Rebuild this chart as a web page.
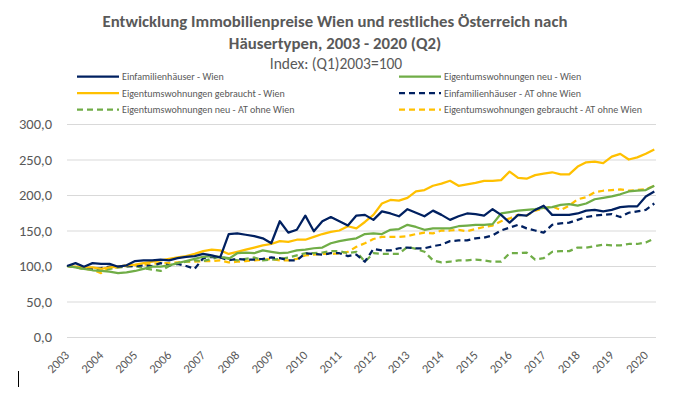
<!DOCTYPE html>
<html lang="de">
  <head>
    <meta charset="UTF-8" />
    <title>Immobilienpreise Wien</title>
    <style>
      body {
        margin: 0;
        background: #fff;
      }
      svg {
        font-family: Carlito, Calibri, Lato, sans-serif;
      }
      .grid line {
        stroke: #d9d9d9;
        stroke-width: 1px;
      }
      .series {
        fill: none;
        stroke-width: 2.25px;
        stroke-linejoin: round;
      }
    </style>
  </head>
  <body>
    <div id="chart"></div>
    <script src="https://cdn.jsdelivr.net/npm/d3@7"></script>
    <script>
      // Index (Q1)2003 = 100, quartalsweise 2003 Q1 bis 2020 Q2
      const years = d3.range(2003, 2021);
      const yTicks = [0, 50, 100, 150, 200, 250, 300];

      const efhWien = [
        100, 104, 99, 104, 103, 103, 99, 101, 107, 108,
        108, 109, 108, 111, 113, 114, 117, 115, 112, 145,
        146, 144, 142, 139, 132, 163, 147, 151, 171, 149,
        163, 169, 163, 157, 171, 172, 165, 177, 174, 170,
        180, 175, 170, 178, 172, 165, 170, 174, 173, 171,
        180, 172, 161, 172, 171, 179, 185, 172, 172, 172,
        174, 178, 179, 177, 179, 183, 184, 184, 198, 205
      ];
      const ewNeuWien = [
        100, 98, 96, 94, 93, 92, 90, 91, 93, 96,
        99, 99, 101, 104, 107, 110, 113, 114, 113, 110,
        118, 119, 118, 122, 120, 118, 119, 122, 123, 125,
        126, 132, 135, 137, 139, 145, 146, 145, 151, 152,
        158, 155, 151, 153, 153, 153, 156, 157, 158, 158,
        159, 174, 176, 178, 179, 180, 182, 183, 186, 187,
        185, 188, 194, 196, 198, 201, 205, 206, 207, 213
      ];
      const ewGebrWien = [
        100, 99, 98, 98, 96, 98, 99, 101, 102, 104,
        106, 108, 110, 112, 114, 117, 121, 123, 122, 117,
        120, 123, 126, 129, 131, 135, 134, 137, 137, 141,
        145, 148, 150, 156, 153, 162, 172, 188, 193, 192,
        196, 205, 207, 213, 216, 220, 213, 215, 217, 220,
        220, 221, 233, 224, 223, 228, 230, 232, 229, 229,
        240, 246, 247, 245, 254, 258, 250, 253, 258, 264
      ];
      const efhAT = [
        100, 99, 97, 96, 97, 99, 99, 100, 100, 101,
        100, 104, 101, 103, 100, 96, 111, 113, 112, 108,
        110, 109, 109, 110, 112, 111, 108, 108, 118, 117,
        116, 118, 118, 114, 116, 106, 124, 122, 122, 125,
        126, 125, 125, 128, 130, 135, 136, 136, 139, 140,
        143, 150, 154, 158, 153, 150, 147, 158, 160, 161,
        165, 169, 171, 172, 173, 169, 175, 177, 179, 188
      ];
      const ewNeuAT = [
        100, 98, 96, 96, 94, 96, 98, 99, 100, 97,
        95, 93, 100, 104, 106, 108, 107, 110, 113, 111,
        108, 110, 112, 108, 109, 110, 112, 115, 118, 118,
        119, 121, 121, 118, 120, 106, 118, 117, 117, 117,
        127, 124, 120, 108, 105, 106, 108, 108, 109, 108,
        106, 106, 118, 118, 119, 109, 111, 120, 121, 121,
        126, 126, 128, 130, 129, 129, 131, 131, 133, 139
      ];
      const ewGebrAT = [
        100, 98, 96, 95, 90, 97, 98, 100, 101, 102,
        103, 104, 104, 105, 106, 106, 107, 107, 108, 105,
        106, 107, 108, 109, 110, 108, 108, 110, 115, 116,
        117, 117, 118, 120, 127, 132, 138, 141, 141, 141,
        142, 145, 147, 146, 150, 150, 151, 149, 152, 155,
        157, 163, 167, 172, 171, 178, 181, 184, 179, 185,
        194, 197, 204, 206, 207, 208, 206, 207, 208, 213
      ];

      const navy = "#002060",
        gold = "#ffc000",
        green = "#70ad47",
        textGrey = "#595959";

      // Reihenfolge wie in der Legende (links/rechts, zeilenweise)
      const series = [
        { name: "Einfamilienhäuser - Wien", values: efhWien, color: navy, dash: null },
        { name: "Eigentumswohnungen neu - Wien", values: ewNeuWien, color: green, dash: null },
        { name: "Eigentumswohnungen gebraucht - Wien", values: ewGebrWien, color: gold, dash: null },
        { name: "Einfamilienhäuser - AT ohne Wien", values: efhAT, color: navy, dash: "6,4" },
        { name: "Eigentumswohnungen neu - AT ohne Wien", values: ewNeuAT, color: green, dash: "6,4" },
        { name: "Eigentumswohnungen gebraucht - AT ohne Wien", values: ewGebrAT, color: gold, dash: "6,4" }
      ];

      let width = 673,
        height = 399;
      let margin = { top: 124, right: 17, bottom: 62, left: 67 };
      let n = efhWien.length;

      let svg = d3
        .select("#chart")
        .append("svg")
        .attr("width", width)
        .attr("height", height);

      let x = d3
        .scaleLinear()
        .domain([0, n - 1])
        .range([margin.left, 654.3]);

      let y = d3
        .scaleLinear()
        .domain([0, 300])
        .range([height - margin.bottom, margin.top]);

      // Titel
      let title = svg
        .append("text")
        .attr("text-anchor", "middle")
        .attr("fill", textGrey)
        .attr("font-weight", "bold")
        .attr("font-size", 16.8);
      title.append("tspan").attr("x", 335).attr("y", 27)
        .text("Entwicklung Immobilienpreise Wien und restliches Österreich nach");
      title.append("tspan").attr("x", 335).attr("y", 49)
        .text("Häusertypen, 2003 - 2020 (Q2)");

      svg
        .append("text")
        .attr("x", 336)
        .attr("y", 69)
        .attr("text-anchor", "middle")
        .attr("fill", textGrey)
        .attr("font-size", 15.5)
        .text("Index: (Q1)2003=100");

      // Legende
      let legend = svg
        .selectAll(".legend")
        .data(series)
        .enter()
        .append("g")
        .attr("class", "legend")
        .attr("transform", function (d, i) {
          let col = i % 2,
            row = Math.floor(i / 2);
          return "translate(" + (col ? 399 : 77) + "," + (76.5 + row * 16.5) + ")";
        });

      legend
        .append("line")
        .attr("x1", 0)
        .attr("x2", 42)
        .attr("stroke", (d) => d.color)
        .attr("stroke-width", 2.25)
        .attr("stroke-dasharray", (d) => d.dash);

      legend
        .append("text")
        .attr("x", 45)
        .attr("dy", "0.35em")
        .attr("fill", textGrey)
        .attr("font-size", 10)
        .text((d) => d.name);

      // Gitternetz + y-Achse
      let yAxis = svg
        .append("g")
        .attr("class", "grid")
        .attr("transform", "translate(" + margin.left + ",0)")
        .call(
          d3
            .axisLeft(y)
            .tickValues(yTicks)
            .tickSize(-(656 - margin.left))
            .tickPadding(15)
            .tickFormat((d) => d.toFixed(1).replace(".", ","))
        );
      yAxis.select(".domain").remove();
      yAxis.selectAll("text")
        .attr("fill", textGrey)
        .attr("font-size", 14.5)
        .attr("font-family", "Carlito, Calibri, Lato, sans-serif");

      // x-Achse: Jahreslabels bei Q1, um 45 Grad gedreht
      svg
        .append("g")
        .attr("class", "x-labels")
        .selectAll("text")
        .data(years)
        .enter()
        .append("text")
        .attr("transform", function (yr) {
          return "translate(" + x((yr - 2003) * 4) + "," + (y(0) + 16) + ") rotate(-45)";
        })
        .attr("text-anchor", "end")
        .attr("dy", "0.35em")
        .attr("fill", textGrey)
        .attr("font-size", 12.5)
        .text((yr) => yr);

      // Linien
      let line = d3
        .line()
        .x((d, i) => x(i))
        .y((d) => y(d));

      svg
        .selectAll(".series")
        .data(series.slice().reverse())
        .enter()
        .append("path")
        .attr("class", "series")
        .attr("stroke", (d) => d.color)
        .attr("stroke-dasharray", (d) => d.dash)
        .attr("d", (d) => line(d.values));

      // kleiner Cursorstrich links unten
      svg
        .append("line")
        .attr("x1", 18.5)
        .attr("x2", 18.5)
        .attr("y1", 371)
        .attr("y2", 387)
        .attr("stroke", "#000")
        .attr("stroke-width", 1);
    </script>
  </body>
</html>
